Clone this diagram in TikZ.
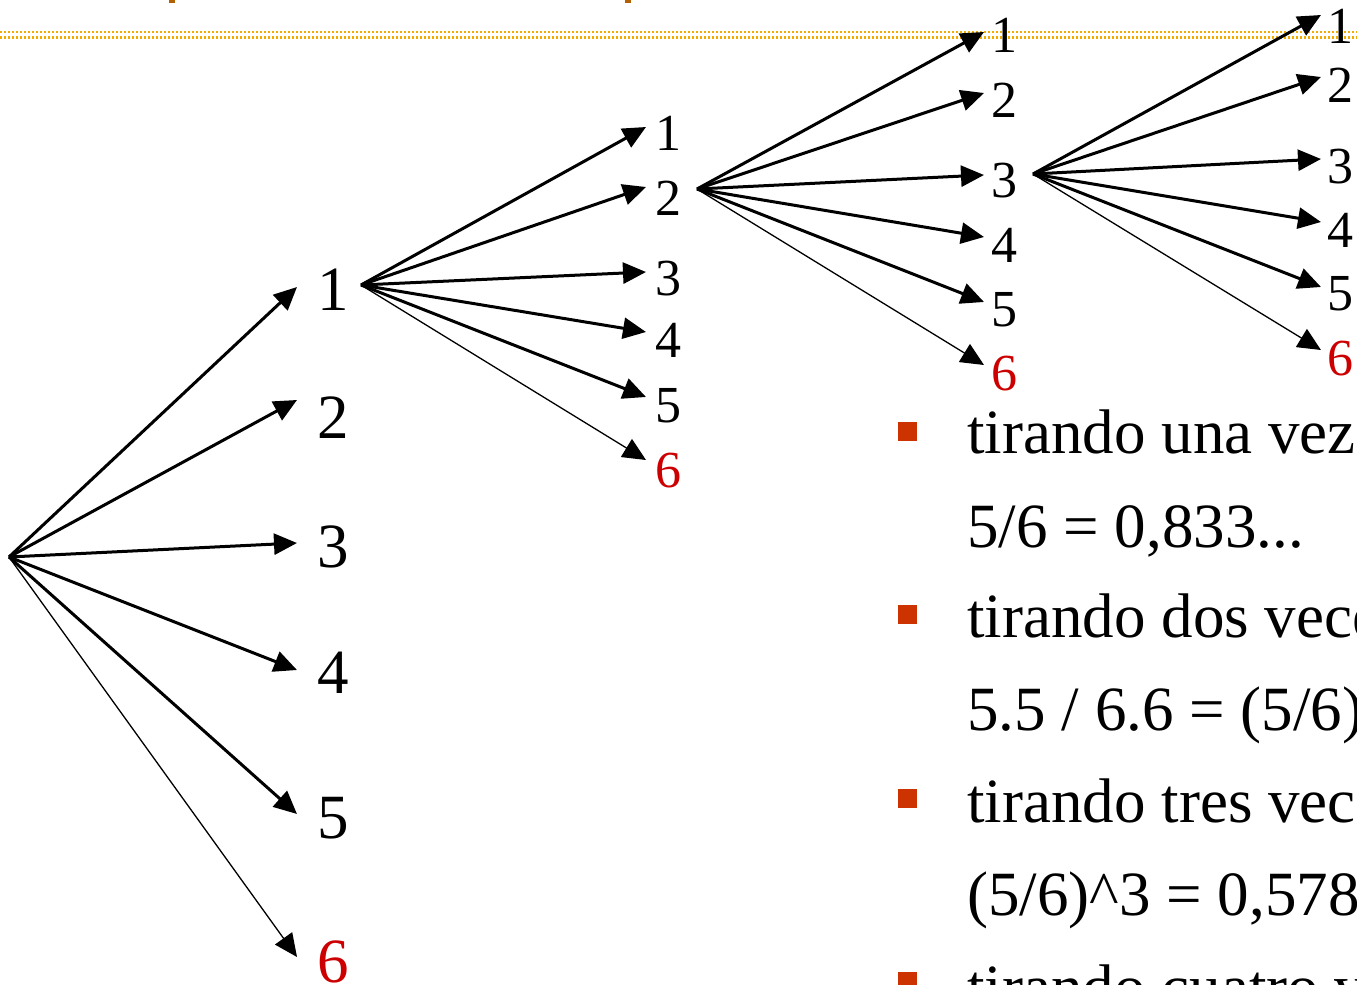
\documentclass[tikz,border=0pt]{standalone}
\usepackage{fontspec}
\setmainfont{Liberation Serif}
\usetikzlibrary{arrows.meta}
\definecolor{dierot}{RGB}{204,0,0}
\definecolor{bulletred}{RGB}{204,51,0}
\definecolor{ruleorange}{RGB}{242,172,0}
\definecolor{titlebrown}{RGB}{178,96,0}

\begin{document}
\begin{tikzpicture}[x=0.5pt,y=-0.5pt,
  branch/.style={line width=1.5pt,-{Triangle[length=11.5pt,width=10.5pt]}},
  lastbranch/.style={line width=0.65pt,-{Triangle[length=11.5pt,width=10.5pt]}},
  bigdigit/.style={font=\fontsize{31.5}{36}\selectfont, inner sep=0pt, anchor=base},
  digit/.style={font=\fontsize{26}{30}\selectfont, inner sep=0pt, anchor=base},
  bodytext/.style={font=\fontsize{31.5}{36}\selectfont, inner sep=0pt, anchor=base west},
  bulletmark/.style={fill=bulletred, draw=none, minimum size=9.5pt, inner sep=0pt},
  rule/.style={draw=ruleorange, line width=1.4pt, dash pattern=on 1.2pt off 0.8pt},
]
\useasboundingbox (0,0) rectangle (1357,985);
\clip (0,0) rectangle (1357,985);

% slide header: descenders of the title and the dotted double rule
\fill[titlebrown] (169,0) rectangle (175,3);
\fill[titlebrown] (625,0) rectangle (631,3);
\draw[rule] (0,32) -- (1357,32);
\draw[rule] (0,37.5) -- (1357,37.5);

% first throw
\coordinate (r0) at (9,557);
\foreach \i/\ty/\ly/\st/\col in {1/287/310/branch/black, 2/400/438/branch/black,
    3/543/567/branch/black, 4/670/693/branch/black, 5/814/838/branch/black,
    6/957/982/lastbranch/dierot} {
  \coordinate (a\i) at (297,\ty);
  \node[bigdigit, text=\col] (A\i) at (333,\ly) {\i};
  \draw[\st] (r0) -- (a\i);
}

% second throw, after a 1
\coordinate (r1) at (361,285);
\foreach \i/\ty/\ly/\st/\col in {1/127/150/branch/black, 2/187/215/branch/black,
    3/272/295/branch/black, 4/332/357/branch/black, 5/397/422/branch/black,
    6/460/487/lastbranch/dierot} {
  \coordinate (b\i) at (646,\ty);
  \node[digit, text=\col] (B\i) at (668,\ly) {\i};
  \draw[\st] (r1) -- (b\i);
}

% third throw, after a 2
\coordinate (r2) at (697,189);
\foreach \i/\ty/\ly/\st/\col in {1/32/53/branch/black, 2/93/117/branch/black,
    3/175/197/branch/black, 4/237/262/branch/black, 5/302/326/branch/black,
    6/365/390/lastbranch/dierot} {
  \coordinate (c\i) at (984,\ty);
  \node[digit, text=\col] (C\i) at (1004,\ly) {\i};
  \draw[\st] (r2) -- (c\i);
}

% fourth throw, after a 3
\coordinate (r3) at (1033,174);
\foreach \i/\ty/\ly/\st/\col in {1/15/43/branch/black, 2/77/102/branch/black,
    3/159/183/branch/black, 4/222/247/branch/black, 5/287/310/branch/black,
    6/350/375/lastbranch/dierot} {
  \coordinate (d\i) at (1321,\ty);
  \node[digit, text=\col] (D\i) at (1340,\ly) {\i};
  \draw[\st] (r3) -- (d\i);
}

% probabilities of never getting a 6
\node[bulletmark] (m1) at (907.5,431) {};
\node[bodytext] (t1) at (967,453) {tirando una vez};
\node[bodytext] (p1) at (967,547) {5/6 = 0,833...};
\node[bulletmark] (m2) at (907.5,614) {};
\node[bodytext] (t2) at (967,637) {tirando dos veces};
\node[bodytext] (p2) at (967,730) {5.5 / 6.6 = (5/6)\textasciicircum 2};
\node[bulletmark] (m3) at (907.5,798.5) {};
\node[bodytext] (t3) at (967,822) {tirando tres veces};
\node[bodytext] (p3) at (967,915) {(5/6)\textasciicircum 3 = 0,578};
\node[bulletmark] (m4) at (907.5,981) {};
\node[bodytext] (t4) at (967,1008) {tirando cuatro veces};
\end{tikzpicture}
\end{document}
